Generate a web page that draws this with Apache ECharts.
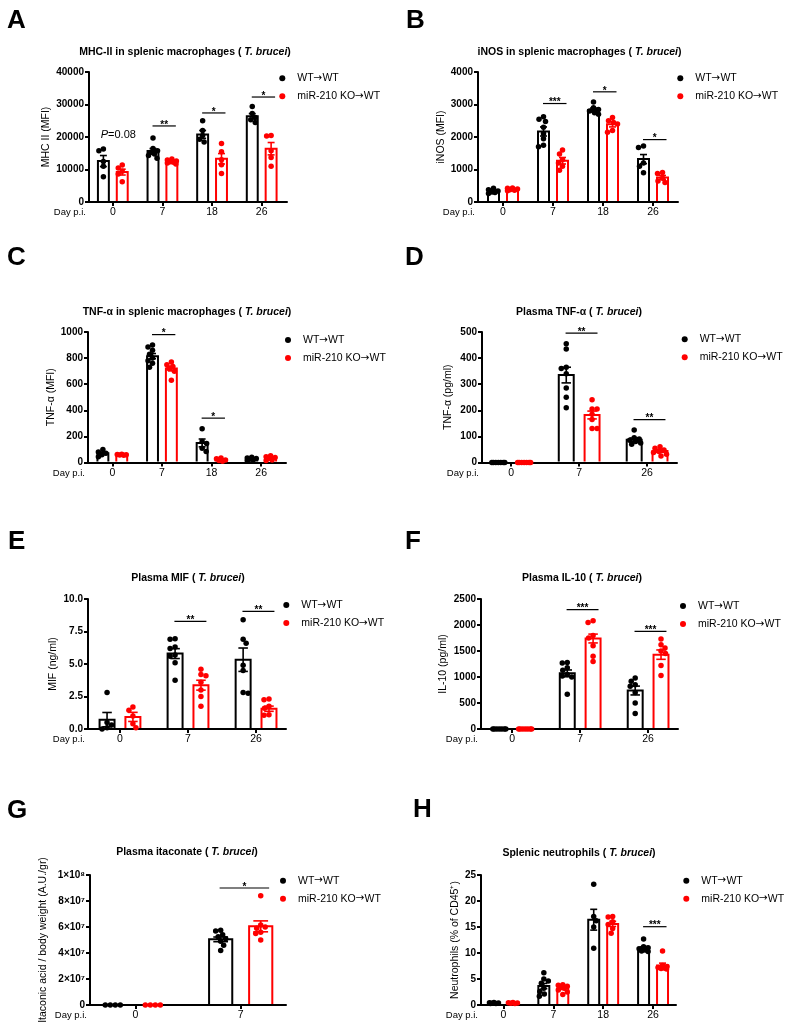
<!DOCTYPE html>
<html><head><meta charset="utf-8">
<script src="https://cdn.jsdelivr.net/npm/echarts@6/dist/echarts.min.js"></script>
<style>html,body{margin:0;padding:0;background:#fff}#c{width:800px;height:1029px}</style>
</head><body><div id="c"></div>
<script>
// ================= DATA =================
// A: MHC-II in splenic macrophages
const A_days = ['0','7','18','26'];
const A_wt_mean = [12600, 15700, 20800, 26400];
const A_wt_sem  = [1700, 750, 1200, 800];
const A_ko_mean = [9200, 12400, 13300, 16400];
const A_ko_sem  = [900, 200, 1600, 1900];
const A_wt_dots = [[16300,15800,12500,11000,7800],[19700,16500,15800,15200,14800,14300,13500],[25000,22000,20500,19300,18500],[29400,27200,26000,25300,24500]];
const A_ko_dots = [[11400,10500,9500,8600,6200],[13200,12900,12600,12400,12200,12000,11700],[18000,15500,13000,11500,8800],[20500,20300,15800,13700,11000]];
const A_sig = [[1, 23400, '**'], [2, 27400, '*'], [3, 32300, '*']];
const A_note = [[0, 20600, 'P=0.08']];
const A_yticks = [0, 10000, 20000, 30000, 40000];
const A_ylabels = ['0','10000','20000','30000','40000'];

// B: iNOS in splenic macrophages
const B_days = ['0','7','18','26'];
const B_wt_mean = [333, 2170, 2830, 1320];
const B_wt_sem  = [25, 140, 60, 140];
const B_ko_mean = [389, 1270, 2390, 757];
const B_ko_sem  = [14, 100, 80, 60];
const B_wt_dots = [[420,380,340,310,290,260],[2620,2550,2480,2300,2100,1950,1750,1700],[3080,2900,2850,2800,2750,2700],[1720,1680,1200,1100,900]];
const B_ko_dots = [[430,420,400,380,360,345],[1600,1480,1300,1200,1100,980],[2600,2500,2450,2400,2200,2150],[910,880,730,650,600]];
const B_sig = [[1, 3030, '***'], [2, 3390, '*'], [3, 1920, '*']];
const B_yticks = [0, 1000, 2000, 3000, 4000];
const B_ylabels = ['0','1000','2000','3000','4000'];

// C: TNF-a in splenic macrophages
const C_days = ['0','7','18','26'];
const C_wt_mean = [70, 815, 150, 28];
const C_wt_sem  = [9, 20, 30, 4];
const C_ko_mean = [59, 720, 22, 33];
const C_ko_sem  = [2, 18, 5, 6];
const C_wt_dots = [[100,80,70,60,45],[900,885,860,830,800,780,760,730],[258,160,145,110,85],[40,35,30,25,20,15]];
const C_ko_dots = [[64,62,60,58,55],[770,750,735,720,700,630],[35,28,20,15,10],[51,45,38,30,20,15]];
const C_sig = [[1, 980, '*'], [2, 340, '*']];
const C_yticks = [0, 200, 400, 600, 800, 1000];
const C_ylabels = ['0','200','400','600','800','1000'];

// D: Plasma TNF-a
const D_days = ['0','7','26'];
const D_wt_mean = [0, 335, 87];
const D_wt_sem  = [0, 30, 7];
const D_ko_mean = [0, 182, 44];
const D_ko_sem  = [0, 15, 5];
const D_wt_dots = [[0,0,0,0,0,0,0],[455,435,365,360,340,285,250,210],[125,95,90,85,80,75,70]];
const D_ko_dots = [[0,0,0,0,0,0,0],[240,205,205,185,165,130,130],[60,55,48,42,38,32,25]];
const D_sig = [[1, 496, '**'], [2, 164, '**']];
const D_yticks = [0, 100, 200, 300, 400, 500];
const D_ylabels = ['0','100','200','300','400','500'];

// E: Plasma MIF
const E_days = ['0','7','26'];
const E_wt_mean = [0.72, 5.8, 5.33];
const E_wt_sem  = [0.55, 0.38, 0.9];
const E_ko_mean = [0.93, 3.37, 1.56];
const E_ko_sem  = [0.35, 0.38, 0.2];
const E_wt_dots = [[2.8,0.5,0.3,0.1,0.0],[6.95,6.9,6.3,6.2,5.7,5.6,5.1,3.75],[8.4,6.9,6.6,4.9,4.5,2.8,2.75]];
const E_ko_dots = [[1.7,1.45,1.0,0.4,0.1],[4.6,4.2,4.1,3.6,3.0,2.5,1.75],[2.3,2.25,1.75,1.6,1.1,1.05]];
const E_sig = [[1, 8.28, '**'], [2, 9.05, '**']];
const E_yticks = [0, 2.5, 5, 7.5, 10];
const E_ylabels = ['0.0','2.5','5.0','7.5','10.0'];

// F: Plasma IL-10
const F_days = ['0','7','26'];
const F_wt_mean = [0, 1070, 740];
const F_wt_sem  = [0, 65, 85];
const F_ko_mean = [0, 1740, 1430];
const F_ko_sem  = [0, 85, 90];
const F_wt_dots = [[0,0,0,0,0,0,0],[1280,1270,1180,1130,1050,1020,1000,670],[980,920,850,820,700,500,300]];
const F_ko_dots = [[0,0,0,0,0,0,0],[2080,2050,1800,1750,1600,1400,1300],[1730,1620,1560,1500,1450,1220,1030]];
const F_sig = [[1, 2295, '***'], [2, 1878, '***']];
const F_yticks = [0, 500, 1000, 1500, 2000, 2500];
const F_ylabels = ['0','500','1000','1500','2000','2500'];

// G: Plasma itaconate
const G_days = ['0','7'];
const G_wt_mean = [0, 5.05e7];
const G_wt_sem  = [0, 0.18e7];
const G_ko_mean = [0, 6.05e7];
const G_ko_sem  = [0, 0.42e7];
const G_wt_dots = [[0,0,0,0],[5.75e7,5.7e7,5.4e7,5.25e7,5.1e7,4.9e7,4.6e7,4.2e7]];
const G_ko_dots = [[0,0,0,0],[8.4e7,6.15e7,6.0e7,5.9e7,5.6e7,5.5e7,5.0e7]];
const G_sig = [[1, 9.0e7, '*']];
const G_yticks = [0, 2e7, 4e7, 6e7, 8e7, 1e8];
const G_ylabels = ['0','2×10⁷','4×10⁷','6×10⁷','8×10⁷','1×10⁸'];

// H: Splenic neutrophils
const H_days = ['0','7','18','26'];
const H_wt_mean = [0.4, 3.65, 16.4, 10.9];
const H_wt_sem  = [0.05, 0.5, 2.0, 0.3];
const H_ko_mean = [0.4, 3.2, 15.6, 7.6];
const H_ko_sem  = [0.04, 0.22, 0.5, 0.45];
const H_wt_dots = [[0.5,0.45,0.4,0.35,0.3,0.3],[6.2,5.0,4.6,4.2,3.2,2.6,2.1,1.7],[23.2,17.0,16.2,15.0,10.9],[12.7,11.2,11.0,10.8,10.6,10.4,10.3]];
const H_ko_dots = [[0.5,0.45,0.4,0.35,0.3],[3.9,3.8,3.6,3.4,3.2,2.9,2.5,2.0],[17.0,16.9,16.0,15.5,14.7,13.8],[10.4,7.6,7.4,7.2,7.1,7.0,6.9]];
const H_sig = [[3, 15.06, '***']];
const H_yticks = [0, 5, 10, 15, 20, 25];
const H_ylabels = ['0','5','10','15','20','25'];

const SERIES_NAMES = ['WT→WT', 'miR-210 KO→WT'];

// ================= LAYOUT / STYLE =================
const FONT = 'Liberation Sans, Arial, Helvetica, sans-serif';
const WT_COLOR = '#000000', KO_COLOR = '#ff0000';
const BAR_OFF = 0.19, BAR_HW = 0.11, CAP_HW = 0.07, JIT = 0.1, DOT = 5.5;

const panels = [
  {letter:'A', title:'MHC-II in splenic macrophages ( ', ylabel:'MHC II (MFI)', days:A_days, wm:A_wt_mean, ws:A_wt_sem, km:A_ko_mean, ks:A_ko_sem, wd:A_wt_dots, kd:A_ko_dots, sig:A_sig, note:A_note, yt:A_yticks, yl:A_ylabels,
   L:{left:89, top:72, width:198, height:130, xmin:-0.48, xmax:3.51, gap:43, tx:185, ty:52.3, lx:289.3, ly:78.3, ax:7, ay:21}},
  {letter:'B', title:'iNOS in splenic macrophages ( ', ylabel:'iNOS (MFI)', days:B_days, wm:B_wt_mean, ws:B_wt_sem, km:B_ko_mean, ks:B_ko_sem, wd:B_wt_dots, kd:B_ko_dots, sig:B_sig, note:[], yt:B_yticks, yl:B_ylabels,
   L:{left:478, top:72, width:200, height:130, xmin:-0.5, xmax:3.5, gap:36.5, tx:579.5, ty:52.3, lx:687.3, ly:78.3, ax:406, ay:20.5}},
  {letter:'C', title:'TNF-α in splenic macrophages ( ', ylabel:'TNF-α (MFI)', days:C_days, wm:C_wt_mean, ws:C_wt_sem, km:C_ko_mean, ks:C_ko_sem, wd:C_wt_dots, kd:C_ko_dots, sig:C_sig, note:[], yt:C_yticks, yl:C_ylabels,
   L:{left:88, top:332, width:198, height:130.5, xmin:-0.49, xmax:3.5, gap:36.5, tx:187, ty:312.3, lx:295, ly:340, ax:7, ay:258}},
  {letter:'D', title:'Plasma TNF-α ( ', ylabel:'TNF-α (pg/ml)', days:D_days, wm:D_wt_mean, ws:D_wt_sem, km:D_ko_mean, ks:D_ko_sem, wd:D_wt_dots, kd:D_ko_dots, sig:D_sig, note:[], yt:D_yticks, yl:D_ylabels,
   L:{left:482, top:332, width:195, height:130.5, xmin:-0.43, xmax:2.44, gap:33.5, tx:579, ty:311.7, lx:691.7, ly:339.3, ax:405, ay:258}},
  {letter:'E', title:'Plasma MIF ( ', ylabel:'MIF (ng/ml)', days:E_days, wm:E_wt_mean, ws:E_wt_sem, km:E_ko_mean, ks:E_ko_sem, wd:E_wt_dots, kd:E_ko_dots, sig:E_sig, note:[], yt:E_yticks, yl:E_ylabels,
   L:{left:88, top:599, width:198, height:130, xmin:-0.47, xmax:2.44, gap:35, tx:188, ty:578.3, lx:293.3, ly:605, ax:8, ay:542}},
  {letter:'F', title:'Plasma IL-10 ( ', ylabel:'IL-10 (pg/ml)', days:F_days, wm:F_wt_mean, ws:F_wt_sem, km:F_ko_mean, ks:F_ko_sem, wd:F_wt_dots, kd:F_ko_dots, sig:F_sig, note:[], yt:F_yticks, yl:F_ylabels,
   L:{left:481, top:599, width:197, height:130, xmin:-0.46, xmax:2.44, gap:38, tx:582, ty:578.3, lx:690, ly:606, ax:405, ay:542}},
  {letter:'G', title:'Plasma itaconate ( ', ylabel:'Itaconic acid / body weight (A.U./gr)', days:G_days, wm:G_wt_mean, ws:G_wt_sem, km:G_ko_mean, ks:G_ko_sem, wd:G_wt_dots, kd:G_ko_dots, sig:G_sig, note:[], yt:G_yticks, yl:G_ylabels,
   L:{left:90, top:875, width:196, height:130, xmin:-0.43, xmax:1.43, gap:46.5, tx:187, ty:851.7, lx:290, ly:880.7, ax:7, ay:810.5}},
  {letter:'H', title:'Splenic neutrophils ( ', ylabel:'Neutrophils (% of CD45⁺)', days:H_days, wm:H_wt_mean, ws:H_wt_sem, km:H_ko_mean, ks:H_ko_sem, wd:H_wt_dots, kd:H_ko_dots, sig:H_sig, note:[], yt:H_yticks, yl:H_ylabels,
   L:{left:481, top:875, width:195, height:130, xmin:-0.45, xmax:3.46, gap:26, tx:579, ty:853.3, lx:693.3, ly:880.7, ax:413, ay:809.5}}
];

// beeswarm-like spread (layout only, in pixels)
function swarmOffsets(vals, pxPerY, maxHalfPx, r) {
  const idx = vals.map((v,i)=>i).sort((a,b)=>vals[b]-vals[a]);
  const placed = []; const out = new Array(vals.length).fill(0);
  idx.forEach(i => {
    const y = vals[i]*pxPerY;
    const sgn = placed.length % 2 === 0 ? 1 : -1;
    const cands = [0];
    for (let k = 0.5; k <= maxHalfPx + 1e-9; k += 0.5) cands.push(sgn*k, -sgn*k);
    let best = 0, bestD = -1;
    for (const c of cands) {
      let d = Infinity;
      for (const p of placed) d = Math.min(d, Math.hypot(p[0]-c, p[1]-y));
      if (d >= 2*r) { best = c; bestD = d; break; }
      if (d > bestD) { bestD = d; best = c; }
    }
    placed.push([best, y]); out[i] = best;
  });
  return out;
}

const grid = [], xAxis = [], yAxis = [], series = [], title = [], legend = [], graphic = [];

panels.forEach((p, k) => {
  const L = p.L;
  const ymax = p.yt[p.yt.length-1];
  const interval = p.yt[1] - p.yt[0];
  const pxX = L.width/(L.xmax - L.xmin), pxY = L.height/ymax;
  const idxs = p.days.map((_, i) => i);
  grid.push({left:L.left, top:L.top, width:L.width, height:L.height, containLabel:false});
  xAxis.push({type:'value', gridIndex:k, min:L.xmin, max:L.xmax,
    axisLine:{show:true, onZero:false, lineStyle:{color:'#000', width:2}},
    axisTick:{show:true, customValues:idxs, length:4, lineStyle:{color:'#000', width:2}},
    axisLabel:{show:true, customValues:idxs, formatter:v => p.days[Math.round(v)], fontSize:10.5, fontFamily:FONT, color:'#000', margin:5},
    splitLine:{show:false}});
  yAxis.push({type:'value', gridIndex:k, min:0, max:ymax, interval:interval,
    name:p.ylabel, nameLocation:'middle', nameRotate:90, nameGap:L.gap,
    nameTextStyle:{fontSize:10.5, fontFamily:FONT, color:'#000', verticalAlign:'middle', align:'center'},
    axisLine:{show:true, onZero:false, lineStyle:{color:'#000', width:2}},
    axisTick:{show:true, length:4, lineStyle:{color:'#000', width:2}},
    axisLabel:{fontSize:10, fontWeight:'bold', fontFamily:FONT, color:'#000', margin:5,
      formatter:v => p.yl[Math.round(v/interval)]},
    splitLine:{show:false}});

  [['wt', p.wm, p.ws, p.wd, WT_COLOR, -BAR_OFF, SERIES_NAMES[0]], ['ko', p.km, p.ks, p.kd, KO_COLOR, BAR_OFF, SERIES_NAMES[1]]].forEach(([tag, mean, sem, dots, color, off, nm]) => {
    // bars
    series.push({type:'custom', name:'bar-'+tag, xAxisIndex:k, yAxisIndex:k, z:2, silent:true,
      data: mean.map((m, i) => [i+off, m]),
      renderItem: (params, api) => {
        const x = api.value(0), y = api.value(1);
        if (!(y > 0)) return null;
        const tl = api.coord([x-BAR_HW, y]), br = api.coord([x+BAR_HW, 0]);
        return {type:'group', children:[
          {type:'rect', shape:{x:tl[0], y:tl[1], width:br[0]-tl[0], height:Math.max(0, br[1]-tl[1]-1)}, style:{fill:'#fff'}},
          {type:'polyline', shape:{points:[[tl[0], br[1]-1],[tl[0], tl[1]],[br[0], tl[1]],[br[0], br[1]-1]]}, style:{stroke:color, lineWidth:2, fill:null, lineJoin:'miter'}}
        ]};
      }});
    // dots
    const data = [];
    dots.forEach((vals, i) => {
      const offs = swarmOffsets(vals, pxY, JIT*pxX, 2.4);
      vals.forEach((v, j) => data.push([i + off + offs[j]/pxX, v]));
    });
    series.push({type:'scatter', name:nm, xAxisIndex:k, yAxisIndex:k, z:3, silent:true, clip:false,
      symbol:'circle', symbolSize:DOT, itemStyle:{color:color, opacity:1}, data:data});
    // error bars
    series.push({type:'custom', name:'err-'+tag, xAxisIndex:k, yAxisIndex:k, z:4, silent:true,
      data: mean.map((m, i) => [i+off, m, sem[i]]),
      renderItem: (params, api) => {
        const x = api.value(0), m = api.value(1), s = api.value(2);
        if (!(s > 0)) return null;
        const t = api.coord([x, m+s]), b = api.coord([x, m-s]);
        const cl = api.coord([x-CAP_HW, m])[0], cr = api.coord([x+CAP_HW, m])[0];
        const st = {stroke:color, lineWidth:1.6};
        return {type:'group', children:[
          {type:'line', shape:{x1:t[0], y1:t[1], x2:b[0], y2:b[1]}, style:st},
          {type:'line', shape:{x1:cl, y1:t[1], x2:cr, y2:t[1]}, style:st},
          {type:'line', shape:{x1:cl, y1:b[1], x2:cr, y2:b[1]}, style:st}
        ]};
      }});
  });

  // significance bars
  series.push({type:'custom', name:'sig', xAxisIndex:k, yAxisIndex:k, z:4, silent:true,
    data: p.sig.map(s => [s[0], s[1]]),
    renderItem: (params, api) => {
      const i = api.value(0), y = api.value(1);
      const a = api.coord([i-0.2, y]), b = api.coord([i+0.27, y]);
      return {type:'group', children:[
        {type:'line', shape:{x1:a[0], y1:a[1], x2:b[0], y2:b[1]}, style:{stroke:'#000', lineWidth:1.2}},
        {type:'text', x:(a[0]+b[0])/2, y:a[1]-1, style:{text:p.sig[params.dataIndex][2], fill:'#000', font:'bold 10px '+FONT, align:'center', verticalAlign:'middle'}}
      ]};
    }});
  if (p.note.length) {
    series.push({type:'custom', name:'note', xAxisIndex:k, yAxisIndex:k, z:4, silent:true,
      data: p.note.map(s => [s[0], s[1]]),
      renderItem: (params, api) => {
        const c = api.coord([api.value(0)+0.11, api.value(1)]);
        const t = p.note[params.dataIndex][2];
        return {type:'text', x:c[0], y:c[1], style:{text:'{i|'+t.slice(0,1)+'}{n|'+t.slice(1)+'}', align:'center', verticalAlign:'middle',
          rich:{i:{fontStyle:'italic', fontSize:11, fontFamily:FONT, fill:'#000'}, n:{fontSize:11, fontFamily:FONT, fill:'#000'}}}};
      }});
  }

  title.push({text:'{b|'+p.title+'}{i|T. brucei}{b|)}', left:L.tx, top:L.ty, textAlign:'center', textVerticalAlign:'middle', padding:0,
    textStyle:{rich:{b:{fontSize:10.5, fontWeight:'bold', fontFamily:FONT, color:'#000'}, i:{fontSize:10.5, fontWeight:'bold', fontStyle:'italic', fontFamily:FONT, color:'#000'}}}});
  legend.push({left:L.lx-10, top:L.ly-6, orient:'vertical', itemWidth:20, itemHeight:6, itemGap:6, icon:'circle', selectedMode:false, padding:0,
    data:SERIES_NAMES, formatter: n => n.replace('→', '{r|→}'),
    textStyle:{fontSize:10.5, fontFamily:FONT, color:'#000', lineHeight:12,
      rich:{r:{fontSize:10.5, fontFamily:'DejaVu Sans', color:'#000', lineHeight:12}}}});
  graphic.push({type:'text', x:L.ax, y:L.ay, style:{text:p.letter, font:'bold 26px '+FONT, fill:'#000', verticalAlign:'middle'}});
  graphic.push({type:'text', x:L.left-3, y:L.top+L.height+10.5, style:{text:'Day p.i.', font:'9.5px '+FONT, fill:'#000', align:'right', verticalAlign:'middle'}});
});

const chart = echarts.init(document.getElementById('c'), null, {renderer:'canvas'});
chart.setOption({backgroundColor:'#fff', animation:false, grid, xAxis, yAxis, series, title, legend, graphic});
</script>
</body></html>
